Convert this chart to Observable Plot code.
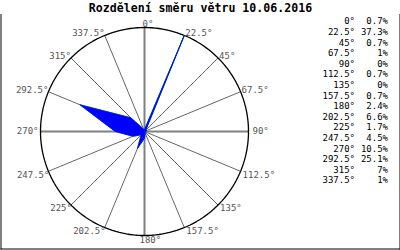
<!DOCTYPE html>
<html>
<head>
<meta charset="utf-8">
<script src="https://cdn.jsdelivr.net/npm/d3@7"></script>
<script src="https://cdn.jsdelivr.net/npm/@observablehq/plot@0.6"></script>
<style>
  html, body { margin: 0; padding: 0; background: #fff; }
  svg { display: block; }
</style>
</head>
<body>
<div id="chart"></div>
<script>
const title = "Rozdělení směru větru 10.06.2016";
const directions = [0, 22.5, 45, 67.5, 90, 112.5, 135, 157.5, 180, 202.5, 225, 247.5, 270, 292.5, 315, 337.5];
const directionLabels = ["0°", "22.5°", "45°", "67.5°", "90°", "112.5°", "135°", "157.5°", "180°", "202.5°", "225°", "247.5°", "270°", "292.5°", "315°", "337.5°"];
const percents = [0.7, 37.3, 0.7, 1, 0, 0.7, 0, 0.7, 2.4, 6.6, 1.7, 4.5, 10.5, 25.1, 7, 1];
const percentLabels = ["0.7%", "37.3%", "0.7%", "1%", "0%", "0.7%", "0%", "0.7%", "2.4%", "6.6%", "1.7%", "4.5%", "10.5%", "25.1%", "7%", "1%"];

const rad = d => d * Math.PI / 180;
const maxPct = d3.max(percents);

const rose = directions.map((d, i) => ({
  x: percents[i] * Math.sin(rad(d)),
  y: percents[i] * Math.cos(rad(d))
}));
const spokes = directions.map((d, i) => ({
  d,
  x: maxPct * Math.sin(rad(d)),
  y: maxPct * Math.cos(rad(d)),
  label: directionLabels[i]
}));
const ring = d3.range(0, 361, 2).map(a => ({x: maxPct * Math.sin(rad(a)), y: maxPct * Math.cos(rad(a))}));

const mono = "DejaVu Sans Mono, monospace";

const legendMarks = directions.flatMap((d, i) => [
  Plot.text([directionLabels[i]], {
    text: t => t, frameAnchor: "top-right", dx: -45, dy: 7 + i * 10.6,
    textAnchor: "end", lineAnchor: "middle", fill: "black",
    fontFamily: mono, fontSize: 9
  }),
  Plot.text([percentLabels[i]], {
    text: t => t, frameAnchor: "top-right", dx: -12, dy: 7 + i * 10.6,
    textAnchor: "end", lineAnchor: "middle", fill: "black",
    fontFamily: mono, fontSize: 9
  })
]);

const labelGroups = [
  {test: d => d.d === 0, textAnchor: "start", lineAnchor: "bottom", dx: -2, dy: -1},
  {test: d => d.d === 180, textAnchor: "start", lineAnchor: "top", dx: -5, dy: 1},
  {test: d => d.d === 90, textAnchor: "start", lineAnchor: "middle", dx: 4, dy: 0},
  {test: d => d.d === 270, textAnchor: "end", lineAnchor: "middle", dx: -2, dy: 0},
  {test: d => d.d > 0 && d.d < 90, textAnchor: "start", lineAnchor: "bottom", dx: 1, dy: 1},
  {test: d => d.d > 90 && d.d < 180, textAnchor: "start", lineAnchor: "top", dx: 2, dy: 0},
  {test: d => d.d > 180 && d.d < 270, textAnchor: "end", lineAnchor: "top", dx: 1, dy: 0},
  {test: d => d.d > 270, textAnchor: "end", lineAnchor: "bottom", dx: 0, dy: 1}
];
const labelMarks = labelGroups.map(g =>
  Plot.text(spokes, {
    filter: g.test,
    x: "x", y: "y", text: "label",
    fill: "#555", fontFamily: mono, fontSize: 9,
    textAnchor: g.textAnchor, lineAnchor: g.lineAnchor, dx: g.dx, dy: g.dy
  })
);

const chart = Plot.plot({
  width: 400,
  height: 250,
  marginTop: 14,
  marginLeft: 0.5,
  marginRight: 0.5,
  marginBottom: 1.5,
  style: {background: "#fff", overflow: "visible"},
  x: {domain: [-maxPct, maxPct], range: [40, 248], axis: null},
  y: {domain: [-maxPct, maxPct], range: [235, 27], axis: null},
  marks: [
    Plot.frame({anchor: "left", stroke: "black"}),
    Plot.frame({anchor: "right", stroke: "black"}),
    Plot.frame({anchor: "bottom", stroke: "black"}),
    Plot.link(spokes, {
      filter: d => d.d % 90 !== 0,
      x1: () => 0, y1: () => 0, x2: "x", y2: "y",
      stroke: "#666", strokeWidth: 1
    }),
    Plot.link(spokes, {
      filter: d => d.d % 90 === 0,
      x1: () => 0, y1: () => 0, x2: "x", y2: "y",
      stroke: "#808080", strokeWidth: 2
    }),
    Plot.line(ring, {x: "x", y: "y", stroke: "black", strokeWidth: 1.3, curve: "linear-closed"}),
    Plot.line(rose, {x: "x", y: "y", curve: "linear-closed", stroke: "#00ff00", strokeWidth: 0.8, fill: "none"}),
    Plot.line(rose, {x: "x", y: "y", curve: "linear-closed", fill: "#0000ff", stroke: "#0000ff", strokeWidth: 0.8}),
    ...labelMarks,
    Plot.text([title], {
      text: t => t, frameAnchor: "top", dy: -6, lineAnchor: "middle",
      fontFamily: mono, fontWeight: "bold", fontSize: 11.6, fill: "black"
    }),
    ...legendMarks
  ]
});

document.getElementById("chart").appendChild(chart);
</script>
</body>
</html>
